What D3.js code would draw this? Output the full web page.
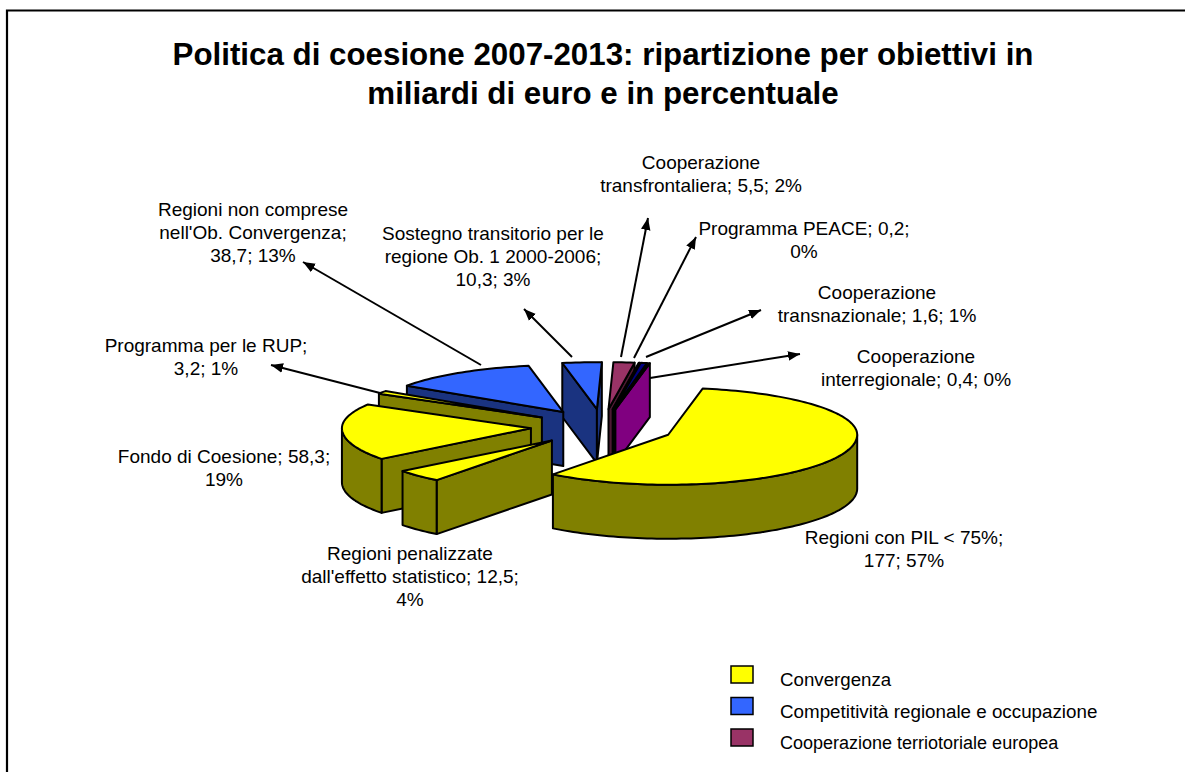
<!DOCTYPE html>
<html>
<head>
<meta charset="utf-8">
<script src="https://cdn.jsdelivr.net/npm/d3@7"></script>
<style>
  html, body { margin: 0; padding: 0; background: #fff; }
  svg { display: block; }
  text { font-family: "Liberation Sans", Arial, sans-serif; fill: #000; }
</style>
</head>
<body>
<svg id="chart" width="1185" height="772"></svg>
<script>
// values in miliardi di euro, clockwise from the big slice
const categories = ["Regioni con PIL < 75%", "Regioni penalizzate dall'effetto statistico", "Fondo di Coesione",
  "Programma per le RUP", "Regioni non comprese nell'Ob. Convergenza", "Sostegno transitorio per le regione Ob. 1 2000-2006",
  "Cooperazione transfrontaliera", "Programma PEACE", "Cooperazione transnazionale", "Cooperazione interregionale"]
const values = [177, 12.5, 58.3, 3.2, 38.7, 10.3, 5.5, 0.2, 1.6, 0.4]
const sliceColors = ["#FFFF00", "#FFFF00", "#FFFF00", "#FFFF00", "#3366FF", "#3366FF", "#993366", "#CCCCCC", "#000080", "#FF00FF"]
const sideColors = ["#808000", "#808000", "#808000", "#808000", "#1A3380", "#1A3380", "#4D1A33", "#666666", "#000040", "#800080"]

const labelLines = [
  ["Regioni con PIL < 75%;", "177; 57%"],
  ["Regioni penalizzate", "dall'effetto statistico; 12,5;", "4%"],
  ["Fondo di Coesione; 58,3;", "19%"],
  ["Programma per le RUP;", "3,2; 1%"],
  ["Regioni non comprese", "nell'Ob. Convergenza;", "38,7; 13%"],
  ["Sostegno transitorio per le", "regione Ob. 1 2000-2006;", "10,3; 3%"],
  ["Cooperazione", "transfrontaliera; 5,5; 2%"],
  ["Programma PEACE; 0,2;", "0%"],
  ["Cooperazione", "transnazionale; 1,6; 1%"],
  ["Cooperazione", "interregionale; 0,4; 0%"]
]
// centre x and first baseline of each label
const labelPos = [[904, 544], [410, 560], [224, 463], [206, 352], [253, 216], [493, 240], [701, 169], [804, 235], [877, 299], [916, 363]]
// leader lines: start, arrow tip (null = no leader)
const leaders = [null, null, null,
  [[380, 393], [271, 365]],
  [[481, 365], [303, 262]],
  [[572, 357], [524, 309]],
  [[621, 357], [648, 218]],
  [[634, 358], [696, 237]],
  [[646, 357], [761, 310]],
  [[650, 378], [800, 354]]
]

const titleLines = ["Politica di coesione 2007-2013: ripartizione per obiettivi in", "miliardi di euro e in percentuale"]
const legendNames = ["Convergenza", "Competitività regionale e occupazione", "Cooperazione terriotoriale europea"]
const legendColors = ["#FFFF00", "#3366FF", "#993366"]
const legendFontSizes = [18.7, 18.8, 18]

const svg = d3.select('#chart')

// chart frame, cut off at the right and bottom of the page
svg.append('path').attr('d', 'M7,772V10.5H1185').attr('fill', 'none')
  .attr('stroke', '#000').attr('stroke-width', 2.2)

svg.append('g').selectAll('text').data(titleLines).join('text')
  .attr('x', 603).attr('y', (d, i) => 65 + i * 39)
  .attr('text-anchor', 'middle').attr('font-size', 31.3).attr('font-weight', 'bold')
  .text(d => d)

// pie geometry
const cx = 602.6, cy = 427, rx = 189, ryFront = 50, ryBack = 47, depth = 54, explode = 0.38
const startDeg = 10.5
const toRad = Math.PI / 180
const pie = d3.pie().sort(null).startAngle(startDeg * toRad).endAngle((startDeg + 360) * toRad)
const arcs = pie(values)

const px = d3.scaleLinear().domain([-1, 1]).range([-rx, rx])
const py = d3.scaleLinear().domain([-1, 0, 1]).range([-ryBack, 0, ryFront]) // back of the ellipse is flatter
const line = d3.line()

const slices = arcs.map((a, i) => {
  const m = (a.startAngle + a.endAngle) / 2
  return {
    i, a,
    ox: cx + explode * px(Math.sin(m)),
    oy: cy + explode * py(-Math.cos(m))
  }
}).sort((s, t) => s.oy - t.oy)

function rim(s, ang, drop = 0) {
  return [s.ox + px(Math.sin(ang)), s.oy + py(-Math.cos(ang)) + drop]
}
function rimPts(s, a0, a1, drop = 0) {
  const n = Math.max(2, Math.ceil((a1 - a0) / (1.5 * toRad)))
  return d3.range(n + 1).map(k => rim(s, a0 + (a1 - a0) * k / n, drop))
}

const pieG = svg.append('g').attr('stroke', '#000').attr('stroke-width', 2).attr('stroke-linejoin', 'round')

slices.forEach(s => {
  const g = pieG.append('g')
  const a0 = s.a.startAngle, a1 = s.a.endAngle
  const side = sideColors[s.i], top = sliceColors[s.i]
  const tip = [s.ox, s.oy], tipLow = [s.ox, s.oy + depth]

  // radial walls, only the ones that face the viewer
  if (Math.sin(a0) < 0) {
    g.append('path').attr('fill', side).attr('d', line([tip, rim(s, a0), rim(s, a0, depth), tipLow]) + 'Z')
  }
  if (Math.sin(a1) > 0) {
    g.append('path').attr('fill', side).attr('d', line([tip, rim(s, a1), rim(s, a1, depth), tipLow]) + 'Z')
  }
  // outer wall on the front half of the ellipse
  const f0 = Math.max(a0, 90 * toRad), f1 = Math.min(a1, 270 * toRad)
  if (f1 > f0) {
    const upper = rimPts(s, f0, f1)
    const lower = rimPts(s, f0, f1, depth).reverse()
    g.append('path').attr('fill', side).attr('d', line(upper.concat(lower)) + 'Z')
  }
  g.append('path').attr('fill', top).attr('d', line([tip].concat(rimPts(s, a0, a1))) + 'Z')
})

// leaders with arrow heads
svg.append('defs').append('marker').attr('id', 'arrow')
  .attr('viewBox', '0 0 10 8').attr('refX', 10).attr('refY', 4)
  .attr('markerUnits', 'userSpaceOnUse').attr('markerWidth', 12).attr('markerHeight', 10)
  .attr('orient', 'auto')
  .append('path').attr('d', 'M0,0L10,4L0,8Z').attr('fill', '#000')

svg.append('g').selectAll('line').data(leaders.filter(d => d)).join('line')
  .attr('x1', d => d[0][0]).attr('y1', d => d[0][1])
  .attr('x2', d => d[1][0]).attr('y2', d => d[1][1])
  .attr('stroke', '#000').attr('stroke-width', 2)
  .attr('marker-end', 'url(#arrow)')

// data labels
const labelG = svg.append('g').attr('font-size', 19).attr('text-anchor', 'middle')
labelLines.forEach((lines, i) => {
  const t = labelG.append('text').attr('aria-label', categories[i])
  lines.forEach((l, k) => {
    t.append('tspan').attr('x', labelPos[i][0]).attr('y', labelPos[i][1] + k * 23).text(l)
  })
})

// legend
const legendY = d3.scalePoint().domain(legendNames).range([681, 744])
const legend = svg.append('g').selectAll('g').data(legendNames).join('g')
legend.append('rect').attr('x', 731).attr('y', d => legendY(d) - 15).attr('width', 22).attr('height', 17)
  .attr('fill', (d, i) => legendColors[i]).attr('stroke', '#000').attr('stroke-width', 1.5)
legend.append('text').attr('x', 780).attr('y', d => legendY(d) + 5)
  .attr('font-size', (d, i) => legendFontSizes[i]).text(d => d)
</script>
</body>
</html>
